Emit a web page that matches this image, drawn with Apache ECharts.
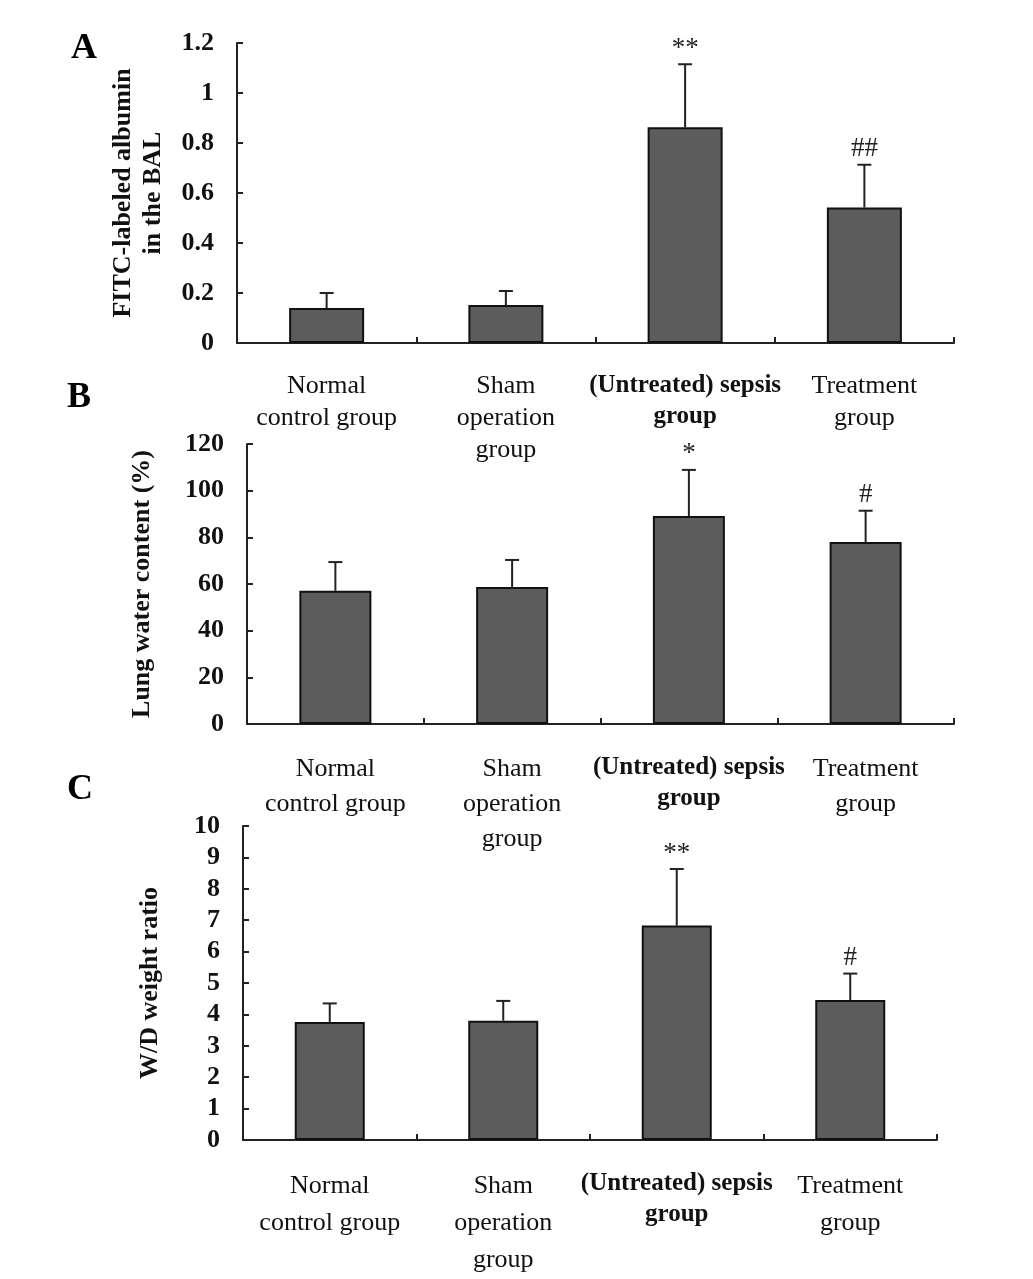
<!DOCTYPE html>
<html>
<head>
<meta charset="utf-8">
<script src="https://cdn.jsdelivr.net/npm/echarts@6/dist/echarts.min.js"></script>
<style>html,body{margin:0;padding:0;background:#fff}#c{width:1033px;height:1279px}</style>
</head>
<body>
<div id="c"></div>
<script>
const categories = ["Normal\ncontrol group", "Sham\noperation\ngroup", "(Untreated) sepsis\ngroup", "Treatment\ngroup"];

const meanA = [0.14, 0.152, 0.863, 0.542];
const sdA = [0.06, 0.056, 0.252, 0.171];
const markA = ["", "", "**", "##"];

const meanB = [57.1, 58.7, 89.1, 78.0];
const sdB = [12.3, 11.6, 19.8, 13.4];
const markB = ["", "", "*", "#"];

const meanC = [3.76, 3.80, 6.83, 4.46];
const sdC = [0.59, 0.63, 1.80, 0.84];
const markC = ["", "", "**", "#"];

const yTitleA = "FITC-labeled albumin\nin the BAL";
const yTitleB = "Lung water content (%)";
const yTitleC = "W/D weight ratio";

const FONT = "Liberation Serif";
const chart = echarts.init(document.getElementById('c'), null, {renderer: 'canvas'});

const panels = [
  {mean: meanA, sd: sdA, mark: markA, title: yTitleA, min: 0, max: 1.2, interval: 0.2,
   grid: {left: 237, top: 43, width: 717, height: 300}, barWidth: 75, lh: 32, margin: 27, nameGap: 69, letter: 'A', lx: 66, ly: 26},
  {mean: meanB, sd: sdB, mark: markB, title: yTitleB, min: 0, max: 120, interval: 20,
   grid: {left: 247, top: 444, width: 707, height: 280}, barWidth: 72, lh: 35, margin: 28, nameGap: 90, letter: 'B', lx: 62, ly: 375},
  {mean: meanC, sd: sdC, mark: markC, title: yTitleC, min: 0, max: 10, interval: 1,
   grid: {left: 243, top: 826, width: 694, height: 317}, barWidth: 70, lh: 37, margin: 28, nameGap: 78, letter: 'C', lx: 62, ly: 767}
];

const option = {
  animation: false,
  backgroundColor: '#fff',
  title: panels.map(p => ({text: p.letter, left: p.lx, top: p.ly,
    textStyle: {fontFamily: FONT, fontSize: 36, fontWeight: 'bold', color: '#000'}})),
  grid: panels.map(p => p.grid),
  xAxis: panels.map((p, i) => ({
    type: 'category', gridIndex: i, data: categories,
    axisLine: {lineStyle: {color: '#222', width: 2}},
    axisTick: {show: true, inside: true, length: 6, lineStyle: {color: '#222', width: 2}},
    axisLabel: {
      margin: p.margin, fontFamily: FONT, fontSize: 26, color: '#111', lineHeight: p.lh,
      interval: 0,
      formatter: function (v, idx) {
        const lines = v.split('\n');
        const st = idx === 2 ? 'b' : 'n';
        return lines.map(l => '{' + st + '|' + l + '}').join('\n');
      },
      rich: {
        n: {fontFamily: FONT, fontSize: 26, color: '#111', lineHeight: p.lh},
        b: {fontFamily: FONT, fontSize: 25, fontWeight: 'bold', color: '#111', lineHeight: 31}
      }
    }
  })),
  yAxis: panels.map((p, i) => ({
    type: 'value', gridIndex: i, min: p.min, max: p.max, interval: p.interval,
    name: p.title, nameLocation: 'middle', nameRotate: 90, nameGap: p.nameGap,
    nameTextStyle: {fontFamily: FONT, fontSize: 26, fontWeight: 'bold', color: '#111', lineHeight: 30},
    axisLine: {show: true, lineStyle: {color: '#222', width: 2}},
    axisTick: {show: true, inside: true, length: 6, lineStyle: {color: '#222', width: 2}},
    splitLine: {show: false},
    axisLabel: {margin: 23, fontFamily: FONT, fontSize: 26, fontWeight: 'bold', color: '#111'}
  })),
  series: []
};

panels.forEach((p, i) => {
  option.series.push({
    type: 'bar', xAxisIndex: i, yAxisIndex: i, data: p.mean, barWidth: p.barWidth,
    itemStyle: {color: '#5c5c5c', borderColor: '#111', borderWidth: 2}
  });
  option.series.push({
    type: 'custom', xAxisIndex: i, yAxisIndex: i, z: 10,
    data: p.mean.map((m, k) => [k, m, m + p.sd[k]]),
    renderItem: function (params, api) {
      const k = api.value(0);
      const p0 = api.coord([k, api.value(1)]);
      const p1 = api.coord([k, api.value(2)]);
      const mk = p.mark[params.dataIndex];
      const children = [
        {type: 'line', shape: {x1: p0[0], y1: p0[1], x2: p1[0], y2: p1[1]}, style: {stroke: '#222', lineWidth: 2}},
        {type: 'line', shape: {x1: p1[0] - 7, y1: p1[1], x2: p1[0] + 7, y2: p1[1]}, style: {stroke: '#222', lineWidth: 2}}
      ];
      if (mk) {
        children.push({type: 'text', x: p1[0], y: p1[1] - 2,
          style: {text: mk, fontFamily: FONT, fontSize: 27, fill: '#222', align: 'center', verticalAlign: 'bottom'}});
      }
      return {type: 'group', children: children};
    }
  });
});

chart.setOption(option);
</script>
</body>
</html>
